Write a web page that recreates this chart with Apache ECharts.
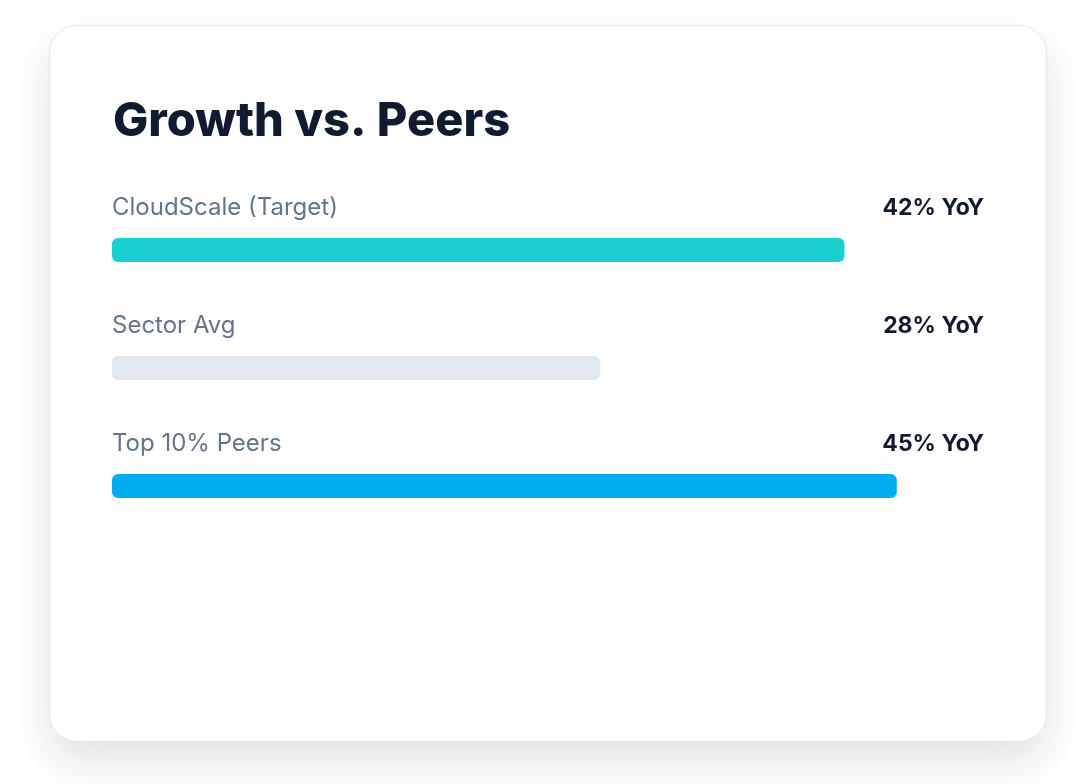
<!DOCTYPE html>
<html>
<head>
<meta charset="utf-8">
<script src="https://cdn.jsdelivr.net/npm/echarts@6/dist/echarts.min.js"></script>
<style>
  html, body { margin: 0; padding: 0; background: #ffffff; }
  /* card behind the chart */
  #card {
    position: absolute; left: 49px; top: 25px;
    width: 996px; height: 715px;
    border: 1.5px solid #e2e8f0; border-radius: 28px;
    background: #ffffff;
    box-shadow: 0 20px 40px rgba(15, 23, 42, 0.12);
  }
  #chart { position: absolute; left: 0; top: 0; width: 1088px; height: 784px; }
</style>
</head>
<body>
<div id="card"></div>
<div id="chart"></div>
<script>
// 数据
const categories = ['CloudScale (Target)', 'Sector Avg', 'Top 10% Peers'];
const growthValues = [42, 28, 45];
const barColors = ['#1acfd0', '#e2e8f0', '#00aeef'];
const axisMax = 50;

const chart = echarts.init(document.getElementById('chart'));

chart.setOption({
  backgroundColor: 'transparent',
  animation: false,
  title: {
    text: 'Growth vs. Peers',
    left: 108,
    top: 93,
    textStyle: {
      fontFamily: 'Inter',
      fontWeight: 800,
      fontSize: 47,
      color: '#111a2e'
    }
  },
  grid: { left: 112, right: 104, top: 191, height: 354 },
  xAxis: { type: 'value', min: 0, max: axisMax, show: false },
  yAxis: {
    type: 'category',
    data: categories,
    inverse: true,
    show: false
  },
  series: [
    {
      // 透明轨道，只用来放右侧数值
      type: 'bar',
      data: categories.map(() => axisMax),
      barWidth: 24,
      barGap: '-100%',
      silent: true,
      itemStyle: { color: 'transparent' },
      label: {
        show: true,
        position: ['100%', -30],
        align: 'right',
        verticalAlign: 'middle',
        formatter: (p) => growthValues[p.dataIndex] + '% YoY',
        fontFamily: 'Inter',
        fontWeight: 700,
        fontSize: 23,
        color: '#111a2e'
      }
    },
    {
      type: 'bar',
      data: growthValues.map((v, i) => ({ value: v, itemStyle: { color: barColors[i] } })),
      barWidth: 24,
      itemStyle: { borderRadius: 6 },
      label: {
        show: true,
        position: [0, -30],
        align: 'left',
        verticalAlign: 'middle',
        formatter: (p) => categories[p.dataIndex],
        fontFamily: 'Inter',
        fontSize: 24,
        color: '#64748b'
      }
    }
  ]
});
</script>
</body>
</html>
